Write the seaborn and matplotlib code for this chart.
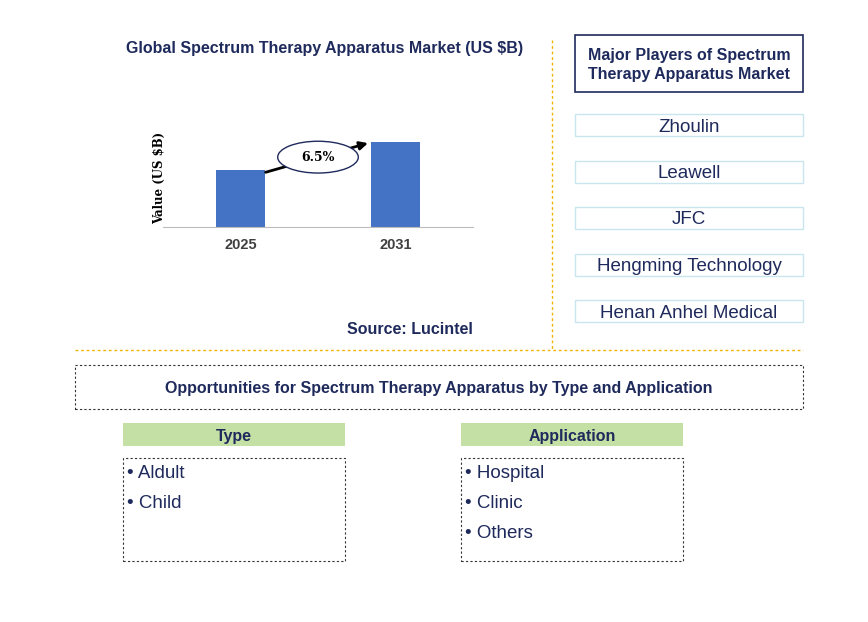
import matplotlib
matplotlib.use("Agg")
import matplotlib.pyplot as plt
from matplotlib.patches import Rectangle, Ellipse, FancyArrowPatch
import seaborn as sns
import pandas as pd

plt.rcParams["font.family"] = "Liberation Sans"

years = ["2025", "2031"]
values = [1.0, 1.5]
cagr = "6.5%"
players = ["Zhoulin", "Leawell", "JFC", "Hengming Technology", "Henan Anhel Medical"]
types = ["Aldult", "Child"]
applications = ["Hospital", "Clinic", "Others"]

W, H = 868, 622
NAVY = "#1F2A5C"
fig = plt.figure(figsize=(W / 100, H / 100), dpi=100)

def fx(x): return x / W
def fy(y): return 1 - (y + 2) / H  # small offset: glyph centres sit high

def box(x0, y0, x1, y1, **kw):
    fig.add_artist(Rectangle((x0 / W, 1 - y1 / H), (x1 - x0) / W, (y1 - y0) / H,
                             transform=fig.transFigure, **kw))

# bar chart
ax = fig.add_axes([163 / W, 1 - 227 / H, (473 - 163) / W, (227 - 110) / H])
df = pd.DataFrame({"year": years, "value": values})
sns.barplot(data=df, x="year", y="value", color="#4472C4", width=0.31, ax=ax, saturation=1)
ax.set_ylim(0, 2.06)
ax.set_xlim(-0.5, 1.5)
ax.set_yticks([])
ax.set_xlabel("")
ax.set_ylabel("Value (US $B)", fontfamily="serif", fontweight="bold", fontsize=8.5)
ax.yaxis.set_label_coords(0.01, 0.42)
for s in ["top", "right", "left"]:
    ax.spines[s].set_visible(False)
ax.spines["bottom"].set_color("#BBBBBB")
ax.tick_params(axis="x", length=0, labelsize=10.5, labelcolor="#404040", pad=8)
for t in ax.get_xticklabels():
    t.set_fontweight("bold")
ax.add_patch(FancyArrowPatch((0.145, 0.95), (0.84, 1.49),
                             arrowstyle="-|>", mutation_scale=12, lw=2, color="black"))
ax.add_patch(Ellipse((0.5, 1.23), 0.52, 0.56, facecolor="white", edgecolor=NAVY, lw=1))
ax.text(0.5, 1.23, cagr, ha="center", va="center", fontsize=9,
        fontfamily="serif", fontweight="bold")

fig.text(fx(325), fy(47), "Global Spectrum Therapy Apparatus Market (US $B)", ha="center",
         va="center", fontsize=11.5, fontweight="bold", color=NAVY)
fig.text(fx(410), fy(328), "Source: Lucintel", ha="center", va="center", fontsize=11.5,
         fontweight="bold", color=NAVY)

# dividers
fig.add_artist(plt.Line2D([552 / W, 552 / W], [1 - 40 / H, 1 - 350 / H], transform=fig.transFigure,
                          color="#F0B400", lw=1, ls=(0, (2, 2))))
fig.add_artist(plt.Line2D([75 / W, 803 / W], [1 - 350 / H, 1 - 350 / H], transform=fig.transFigure,
                          color="#F0B400", lw=1, ls=(0, (2, 2))))

# players
box(575, 35, 803, 92, facecolor="white", edgecolor=NAVY, lw=1.2)
fig.text(fx(689), fy(63), "Major Players of Spectrum\nTherapy Apparatus Market", ha="center",
         va="center", fontsize=11.5, fontweight="bold", color=NAVY, linespacing=1.4)
for i, p in enumerate(players):
    yc = 125 + i * 46.5
    box(575, yc - 11, 803, yc + 11, facecolor="white", edgecolor="#C9E6EE", lw=1)
    fig.text(fx(689), fy(yc), p, ha="center", va="center", fontsize=13.5, color=NAVY)

# opportunities
box(75, 365, 803, 409, facecolor="white", edgecolor="#333333", lw=0.8, ls=(0, (2, 2)))
fig.text(fx(439), fy(387), "Opportunities for Spectrum Therapy Apparatus by Type and Application",
         ha="center", va="center", fontsize=11.5, fontweight="bold", color=NAVY)

for x0, title, items in [(123, "Type", types), (461, "Application", applications)]:
    box(x0, 423, x0 + 222, 446, facecolor="#C5E0A5", edgecolor="none")
    fig.text(fx(x0 + 111), fy(434.5), title, ha="center", va="center", fontsize=11.5,
             fontweight="bold", color=NAVY)
    box(x0, 458, x0 + 222, 561, facecolor="white", edgecolor="#333333", lw=0.8, ls=(0, (2, 2)))
    for j, it in enumerate(items):
        fig.text(fx(x0 + 4), fy(471 + j * 30), "\u2022 " + it, ha="left", va="center",
                 fontsize=13.5, color=NAVY)

fig.savefig("out.png", dpi=100)
